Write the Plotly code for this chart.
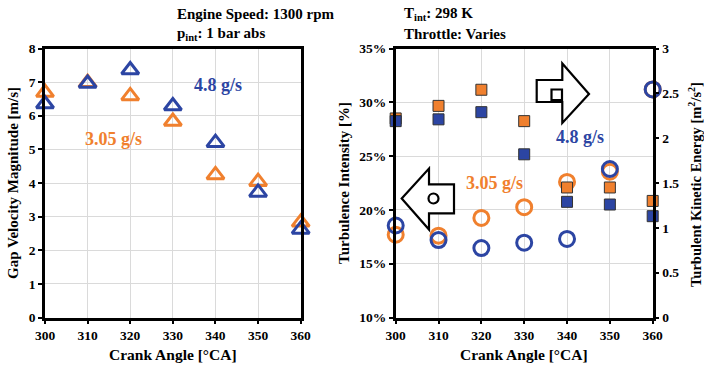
import plotly.graph_objects as go

crank = [300, 310, 320, 330, 340, 350, 360]

# Gap velocity magnitude [m/s]
vel_305 = [6.69, 6.98, 6.59, 5.83, 4.24, 4.04, 2.83]
vel_48 = [6.35, 6.96, 7.36, 6.29, 5.20, 3.72, 2.62]

# Turbulence intensity [%]
ti_305 = [17.7, 17.6, 19.25, 20.25, 22.6, 23.55, 31.2]
ti_48 = [18.55, 17.2, 16.45, 16.95, 17.3, 23.8, 31.2]

# Turbulent kinetic energy [m2/s2]
tke_305 = [2.22, 2.36, 2.54, 2.19, 1.45, 1.45, 1.30]
tke_48 = [2.19, 2.21, 2.29, 1.82, 1.29, 1.26, 1.13]

ORANGE = "#F0802E"
BLUE = "#2C45A3"
FONT = "'Liberation Serif', 'Times New Roman', 'DejaVu Serif', serif"
W, H = 704, 372

fig = go.Figure()

def sc(x, y, xa, ya, symbol, size, color, lw, lc):
    fig.add_trace(go.Scatter(x=x, y=y, mode="markers", xaxis=xa, yaxis=ya, cliponaxis=False,
                             marker=dict(symbol=symbol, size=size, color=color,
                                         line=dict(width=lw, color=lc)), showlegend=False))

# Left panel
sc(crank, vel_305, "x", "y", "triangle-up-open", 15, ORANGE, 3, ORANGE)
sc(crank, vel_48, "x", "y", "triangle-up-open", 15, BLUE, 3, BLUE)
# Right panel: TKE squares (right axis)
sc(crank, tke_305, "x2", "y3", "square", 11, ORANGE, 1, "#333333")
sc(crank, tke_48, "x2", "y3", "square", 11, BLUE, 1, "#333333")
# Turbulence intensity circles (left axis)
sc(crank, ti_305, "x2", "y2", "circle-open", 15, ORANGE, 3, ORANGE)
sc(crank, ti_48, "x2", "y2", "circle-open", 15, BLUE, 3, BLUE)

def px(x):
    return x / W

def py(y):
    return 1 - y / H

tickfont = dict(family=FONT, size=13.5, color="black", weight="bold")
axis_common = dict(showline=True, linecolor="black", linewidth=2.5, ticks="outside", ticklen=4,
                   tickcolor="black", tickwidth=1.5, tickfont=tickfont, zeroline=False,
                   automargin=False)
common_x = dict(axis_common, range=[300, 360], tickvals=crank, showgrid=True,
                gridcolor="#DADADA", gridwidth=1, mirror=True)

ydom = [py(317.5), py(48.5)]

fig.update_layout(
    template="none",
    width=W, height=H, margin=dict(l=0, r=0, t=0, b=0, pad=0), autosize=False,
    paper_bgcolor="white", plot_bgcolor="white", showlegend=False,
    font=dict(family=FONT, color="black"),
    xaxis=dict(common_x, domain=[px(45), px(300.7)], anchor="y"),
    yaxis=dict(axis_common, range=[0, 8], dtick=1, domain=ydom, anchor="x", showgrid=True,
               gridcolor="#DADADA", mirror=True),
    xaxis2=dict(common_x, domain=[px(395.7), px(652.7)], anchor="y2"),
    yaxis2=dict(axis_common, range=[10, 35], dtick=5, ticksuffix="%", domain=ydom, anchor="x2",
                showgrid=True, gridcolor="#DADADA"),
    yaxis3=dict(axis_common, range=[0, 3], dtick=0.5, overlaying="y2", side="right", anchor="x2",
                showgrid=False),
)

def ann(x, y, text, size=15, color="black", angle=0, xanchor="center", yanchor="middle"):
    fig.add_annotation(x=px(x), y=py(y), xref="paper", yref="paper", text=text, showarrow=False,
                       textangle=angle, xanchor=xanchor, yanchor=yanchor,
                       font=dict(family=FONT, size=size, color=color, weight="bold"))

# Header texts
ann(175, 14, "Engine Speed: 1300 rpm", xanchor="left")
ann(175, 34, "p<sub>int</sub>: 1 bar abs", xanchor="left")
ann(402, 14, "T<sub>int</sub>: 298 K", xanchor="left")
ann(402, 34, "Throttle: Varies", xanchor="left")

# Axis titles
ann(173, 354, "Crank Angle [°CA]", size=15.5)
ann(524, 354, "Crank Angle [°CA]", size=15.5)
ann(13, 183, "Gap Velocity Magnitude [m/s]", size=15, angle=-90)
ann(344, 183, "Turbulence Intensity [%]", size=15, angle=-90)
ann(695, 185, "Turbulent Kinetic Energy [m<sup>2</sup>/s<sup>2</sup>]", size=14.5, angle=-90)

# Series labels
ann(218, 85, "4.8 g/s", size=18, color=BLUE)
ann(113, 139, "3.05 g/s", size=18, color=ORANGE)
ann(580, 137, "4.8 g/s", size=18, color=BLUE)
ann(494, 183, "3.05 g/s", size=18, color=ORANGE)

# Block arrows
def path(points):
    return "M " + " L ".join(f"{px(a):.5f},{py(b):.5f}" for a, b in points) + " Z"

right_arrow = [(536.7, 80), (562.3, 80), (562.3, 63.5), (589, 94), (562.3, 123),
               (562.3, 102), (536.7, 102)]
left_arrow = [(401.7, 198.5), (429, 168.5), (429, 184.3), (454, 184.3), (454, 213.3),
              (429, 213.3), (429, 229.5)]
for pts in (right_arrow, left_arrow):
    fig.add_shape(type="path", path=path(pts), xref="paper", yref="paper",
                  line=dict(color="black", width=2.2), fillcolor="white")

fig.add_shape(type="rect", xref="paper", yref="paper", x0=px(551.5), x1=px(562), y0=py(100),
              y1=py(89.5), line=dict(color="black", width=2.2))
fig.add_shape(type="circle", xref="paper", yref="paper", x0=px(428.5), x1=px(438.5), y0=py(203.5),
              y1=py(193.5), line=dict(color="black", width=2.2))

fig.write_html("out.html")
